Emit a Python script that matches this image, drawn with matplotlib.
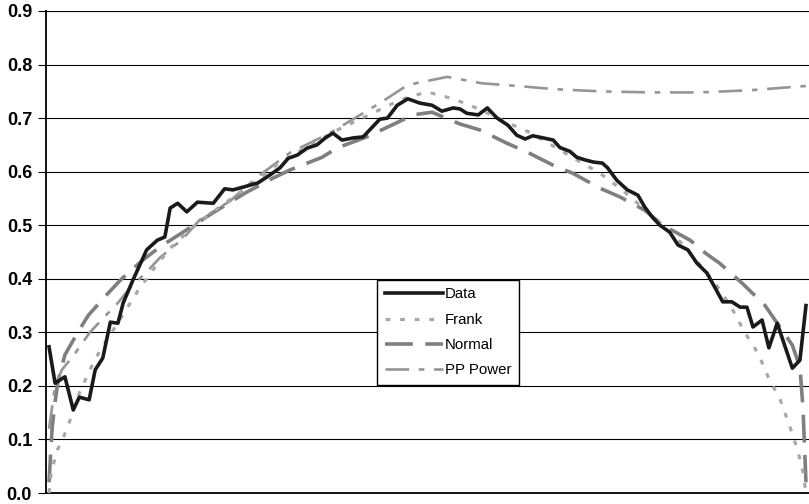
import matplotlib
matplotlib.use("Agg")
import matplotlib.pyplot as plt

plt.rcParams['font.family'] = ['Liberation Sans', 'DejaVu Sans']
plt.rcParams['lines.scale_dashes'] = False

# position along the distribution (0-100)
data_x = [0.0, 0.8, 2.1, 3.2, 4.0, 5.3, 6.1, 7.1, 8.1, 9.1, 9.8, 11.1, 12.9, 14.3, 15.3,
          16.0, 17.0, 18.2, 19.6, 21.7, 23.2, 24.3, 25.6, 27.6, 29.2, 30.5, 31.6, 32.8,
          34.1, 35.4, 36.5, 37.5, 38.7, 40.2, 41.5, 43.7, 44.7, 46.0, 47.4, 49.0, 50.6,
          51.9, 53.4, 54.3, 55.2, 56.7, 57.9, 59.2, 60.6, 61.8, 62.9, 63.9, 65.3, 66.6,
          67.5, 68.8, 69.7, 70.8, 71.9, 73.1, 73.8, 75.0, 76.4, 77.8, 78.7, 79.7, 80.7,
          82.0, 83.1, 84.4, 85.6, 86.9, 88.0, 89.0, 90.2, 91.3, 92.2, 93.0, 94.2, 95.1,
          96.2, 98.2, 99.2, 100.0]
data_y = [0.273, 0.205, 0.217, 0.155, 0.179, 0.174, 0.230, 0.252, 0.319, 0.317, 0.355,
          0.398, 0.454, 0.472, 0.478, 0.532, 0.541, 0.525, 0.543, 0.541, 0.568, 0.566,
          0.571, 0.579, 0.594, 0.607, 0.625, 0.631, 0.644, 0.650, 0.663, 0.672, 0.659,
          0.663, 0.665, 0.698, 0.700, 0.724, 0.736, 0.728, 0.724, 0.713, 0.719, 0.717,
          0.709, 0.706, 0.719, 0.700, 0.687, 0.668, 0.661, 0.667, 0.663, 0.659, 0.645,
          0.638, 0.627, 0.622, 0.618, 0.616, 0.607, 0.584, 0.566, 0.556, 0.534, 0.515,
          0.500, 0.487, 0.463, 0.454, 0.429, 0.411, 0.383, 0.357, 0.357, 0.347, 0.347,
          0.310, 0.323, 0.271, 0.317, 0.233, 0.248, 0.350]

frank_x = [0.0, 0.3, 1.1, 2.4, 3.8, 5.4, 6.7, 10.0, 11.8, 14.0, 16.0, 18.9, 22.6, 26.6,
           30.3, 34.5, 38.4, 42.7, 46.4, 49.9, 53.4, 56.8, 60.0, 63.4, 66.6, 69.7, 72.8,
           75.7, 78.5, 81.1, 83.8, 86.0, 88.1, 90.2, 91.9, 93.7, 95.0, 96.6, 97.8, 98.9,
           99.6, 100.0]
frank_y = [0.0, 0.04, 0.08, 0.12, 0.18, 0.23, 0.265, 0.338, 0.379, 0.422, 0.457, 0.495,
           0.535, 0.575, 0.615, 0.65, 0.68, 0.709, 0.734, 0.749, 0.736, 0.717, 0.695,
           0.674, 0.648, 0.622, 0.597, 0.566, 0.532, 0.50, 0.463, 0.426, 0.39, 0.345,
           0.30, 0.26, 0.217, 0.174, 0.127, 0.08, 0.04, 0.0]

normal_x = [0.0, 0.4, 0.8, 1.2, 2.1, 3.8, 5.2, 7.8, 9.6, 12.4, 14.7, 17.7, 21.3, 25.9,
            29.6, 31.8, 36.1, 38.0, 42.0, 44.7, 48.1, 50.6, 54.3, 56.9, 60.5, 63.1, 66.6,
            69.2, 72.8, 75.4, 78.7, 81.1, 84.7, 86.7, 88.6, 91.7, 94.6, 96.2, 98.2, 99.2,
            99.6, 100.0]
normal_y = [0.02, 0.12, 0.17, 0.21, 0.258, 0.30, 0.332, 0.373, 0.40, 0.435, 0.46, 0.487,
            0.52, 0.56, 0.588, 0.603, 0.627, 0.644, 0.665, 0.683, 0.706, 0.711, 0.689,
            0.678, 0.653, 0.637, 0.612, 0.597, 0.569, 0.553, 0.528, 0.50, 0.472, 0.448,
            0.429, 0.39, 0.35, 0.317, 0.276, 0.235, 0.16, 0.02]

pp_x = [0.0, 0.8, 1.7, 3.4, 5.4, 7.4, 9.1, 10.7, 12.7, 14.7, 17.7, 19.9, 23.9, 27.5,
        31.8, 37.1, 40.4, 43.7, 47.4, 52.6, 57.2, 61.9, 66.8, 72.8, 79.4, 86.0, 92.6, 100.0]
pp_y = [0.12, 0.20, 0.23, 0.26, 0.30, 0.33, 0.355, 0.383, 0.41, 0.44, 0.475, 0.51, 0.545,
        0.59, 0.635, 0.672, 0.70, 0.728, 0.762, 0.777, 0.765, 0.76, 0.754, 0.75, 0.748,
        0.748, 0.752, 0.76]

yticks = [0.0, 0.1, 0.2, 0.3, 0.4, 0.5, 0.6, 0.7, 0.8, 0.9]
ytick_labels = ["0.0", "0.1", "0.2", "0.3", "0.4", "0.5", "0.6", "0.7", "0.8", "0.9"]

fig = plt.figure(figsize=(8.09, 5.04), dpi=100)
ax = fig.add_axes([46 / 809, 11 / 504, 763 / 809, 482 / 504])

ax.plot(data_x, data_y, color='#1a1a1a', lw=2.6, label='Data', zorder=5, solid_joinstyle='round')
ax.plot(frank_x, frank_y, color='#a8a8a8', lw=2.3, dashes=(3.5, 7), label='Frank', zorder=4)
ax.plot(normal_x, normal_y, color='#7f7f7f', lw=2.6, dashes=(20, 9), label='Normal', zorder=3)
ax.plot(pp_x, pp_y, color='#959595', lw=1.9, dashes=(17, 7, 4, 7), label='PP Power', zorder=3)

ax.set_xlim(-0.4, 100.4)
ax.set_ylim(0, 0.9)
ax.set_yticks(yticks)
ax.set_yticklabels(ytick_labels, fontsize=13, fontweight='bold')
ax.set_xticks([])
for y in yticks[1:]:
    ax.axhline(y, color='#000000', lw=0.8, zorder=1)
ax.tick_params(axis='y', direction='out', length=6, width=0.8, pad=4)
for s in ['top', 'right']:
    ax.spines[s].set_visible(False)
ax.spines['left'].set_linewidth(1.3)
ax.spines['bottom'].set_linewidth(1.3)

leg = ax.legend(loc='upper left', bbox_to_anchor=(377 / 809, 224 / 504),
                bbox_transform=fig.transFigure, fontsize=10.8, handlelength=3.9,
                labelspacing=0.75, handletextpad=0.15, borderpad=0.5, borderaxespad=0,
                frameon=True, fancybox=False, edgecolor='black', framealpha=1)
leg.get_frame().set_linewidth(1.0)

fig.savefig('out.png', dpi=100)
